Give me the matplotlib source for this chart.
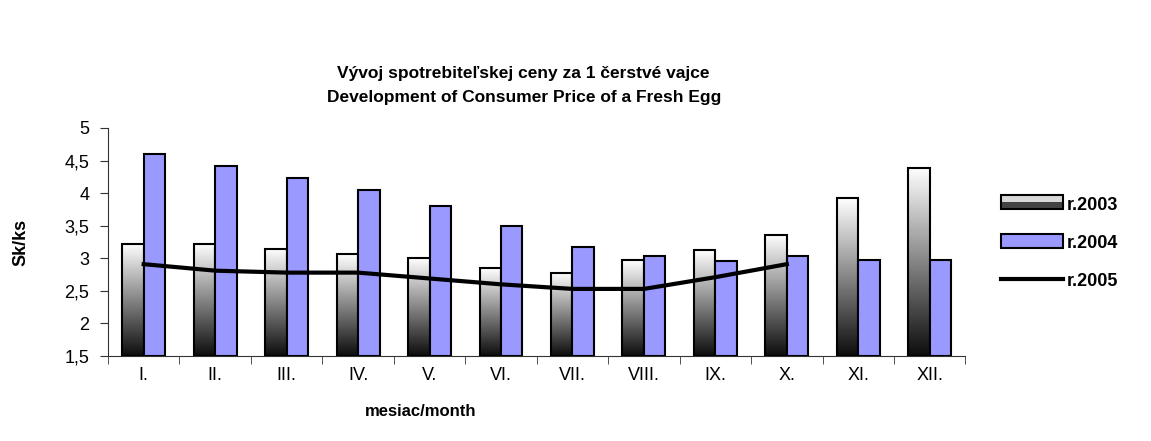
import numpy as np
import matplotlib
matplotlib.use("Agg")
import matplotlib.pyplot as plt
from matplotlib.patches import Rectangle
from matplotlib.legend_handler import HandlerBase
from matplotlib.lines import Line2D

months = ["I.", "II.", "III.", "IV.", "V.", "VI.", "VII.", "VIII.", "IX.", "X.", "XI.", "XII."]
r2003 = [3.22, 3.22, 3.15, 3.06, 3.00, 2.85, 2.78, 2.97, 3.12, 3.36, 3.92, 4.39]
r2004 = [4.60, 4.41, 4.23, 4.05, 3.80, 3.49, 3.18, 3.03, 2.96, 3.03, 2.97, 2.97]
r2005 = [2.91, 2.81, 2.78, 2.78, 2.69, 2.60, 2.53, 2.53, 2.71, 2.91]

plt.rcParams['font.family'] = ['Liberation Sans', 'DejaVu Sans']

fig = plt.figure(figsize=(11.51, 4.41), dpi=100)
ax = fig.add_axes([0.0938, 0.1927, 0.745, 0.5171])

x = np.arange(len(months))
w = 0.3
ymin = 1.5

# vertical white-to-black fill for the 2003 bars
grad = np.linspace(1, 0.05, 256).reshape(-1, 1)

for xi, v in zip(x, r2003):
    left = xi - w
    im = ax.imshow(grad, cmap='gray', vmin=0, vmax=1, aspect='auto',
                   extent=(left, left + w, ymin, v), zorder=2)
    r = Rectangle((left, ymin), w, v - ymin, facecolor='none',
                  edgecolor='black', linewidth=1.5, zorder=3)
    ax.add_patch(r)
    im.set_clip_path(r)

ax.bar(x + w / 2, np.array(r2004) - ymin, w, bottom=ymin, color='#9999ff',
       edgecolor='black', linewidth=1.5, zorder=3)

ax.plot(x[:len(r2005)], r2005, color='black', linewidth=3, zorder=4)

ax.set_xlim(-0.5, len(months) - 0.5)
ax.set_ylim(1.5, 5)
yt = [1.5, 2, 2.5, 3, 3.5, 4, 4.5, 5]
ax.set_yticks(yt)
ax.set_yticklabels([f"{v:g}".replace('.', ',') for v in yt], fontsize=13)
ax.set_xticks(x)
ax.set_xticklabels(months, fontsize=13)
ax.set_xticks(np.arange(-0.5, len(months)), minor=True)
ax.tick_params(axis='x', which='major', length=0, pad=8)
ax.tick_params(axis='x', which='minor', length=5.5, direction='out', color='#333333')
ax.tick_params(axis='y', length=5.5, direction='out', color='#333333', pad=8)
for s in ['top', 'right']:
    ax.spines[s].set_visible(False)
for s in ['left', 'bottom']:
    ax.spines[s].set_color('#333333')

ax.set_ylabel("Sk/ks", fontsize=13, fontweight='bold')
ax.yaxis.set_label_coords(-0.092, 0.5)
ax.set_xlabel("mesiac/month", fontsize=12, fontweight='bold')
ax.xaxis.set_label_coords(0.365, -0.21)

fig.text(0.455, 0.834, "Vývoj spotrebiteľskej ceny za 1 čerstvé vajce",
         ha='center', va='center', fontsize=12.5, fontweight='bold')
fig.text(0.455, 0.778, "Development of Consumer Price of a Fresh Egg",
         ha='center', va='center', fontsize=12.5, fontweight='bold')


class GradHandler(HandlerBase):
    def create_artists(self, legend, orig, xd, yd, width, height, fontsize, trans):
        top = Rectangle((xd, yd + height / 2), width, height / 2,
                        facecolor='#d8d8d8', edgecolor='none', transform=trans)
        bot = Rectangle((xd, yd), width, height / 2,
                        facecolor='#444444', edgecolor='none', transform=trans)
        frame = Rectangle((xd, yd), width, height, facecolor='none',
                          edgecolor='black', linewidth=1.5, transform=trans)
        return [top, bot, frame]


h2003 = Rectangle((0, 0), 1, 1)
h2004 = Rectangle((0, 0), 1, 1, facecolor='#9999ff', edgecolor='black', linewidth=1.5)
h2005 = Line2D([], [], color='black', linewidth=3)
fig.legend([h2003, h2004, h2005], ["r.2003", "r.2004", "r.2005"],
           handler_map={h2003: GradHandler()},
           loc='center left', bbox_to_anchor=(0.862, 0.449), frameon=False,
           prop={'size': 13, 'weight': 'bold'}, handlelength=3.4, handleheight=0.8,
           labelspacing=1.15, handletextpad=0.25, borderpad=0)

fig.savefig("out.png", dpi=100)
